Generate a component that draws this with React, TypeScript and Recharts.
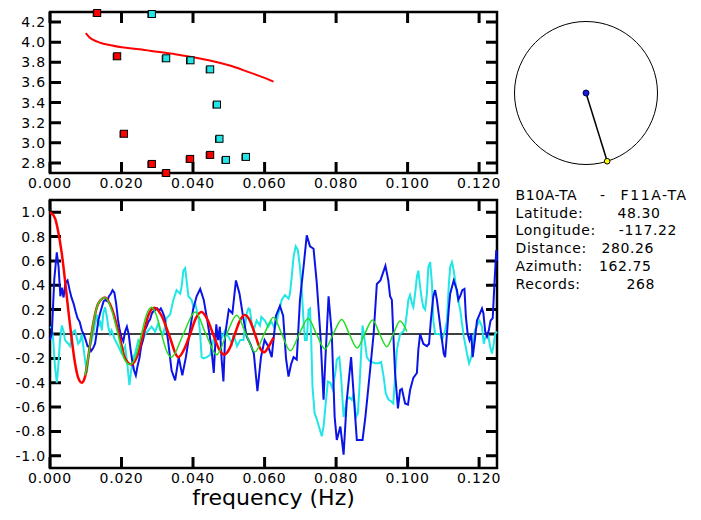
import {
  ComposedChart,
  Line,
  LineChart,
  ReferenceDot,
  ReferenceLine,
  Scatter,
  ScatterChart,
  XAxis,
  YAxis,
} from "recharts";

// ---- upper panel: phase velocity picks vs frequency ----
const freqTicks = [0, 0.02, 0.04, 0.06, 0.08, 0.1, 0.12];
const velTicks = [2.8, 3.0, 3.2, 3.4, 3.6, 3.8, 4.0, 4.2];

const redPickFreq = [0.0132, 0.0188, 0.0207, 0.0285, 0.0325, 0.0392, 0.0448];
const redPickVel = [4.29, 3.86, 3.09, 2.79, 2.7, 2.84, 2.88];

const cyanPickFreq = [0.0285, 0.0325, 0.0393, 0.0448, 0.0467, 0.0474, 0.0492, 0.0548];
const cyanPickVel = [4.28, 3.84, 3.82, 3.73, 3.38, 3.04, 2.83, 2.86];

const modelCurve: [number, number][] = [
  [0.01, 4.09], [0.011, 4.05], [0.012, 4.025], [0.014, 3.995], [0.017, 3.97],
  [0.02, 3.95], [0.025, 3.93], [0.03, 3.905], [0.035, 3.88], [0.04, 3.85],
  [0.045, 3.815], [0.05, 3.77], [0.055, 3.71], [0.06, 3.645], [0.0625, 3.607],
];

// ---- lower panel: correlation spectra ----
const corrTicks = [-1.0, -0.8, -0.6, -0.4, -0.2, 0.0, 0.2, 0.4, 0.6, 0.8, 1.0];

const blueSpec: [number, number][] = [
  [0, -0.05], [0.0005, 0], [0.0012, 0.45], [0.0019, 0.67], [0.0024, 0.55], [0.0029, 0.31],
  [0.0033, 0.38], [0.0038, 0.3], [0.0043, 0.42], [0.0049, 0.44], [0.0055, 0.36], [0.006, 0.3],
  [0.0066, 0.25], [0.0072, 0.18], [0.0077, 0.13], [0.0083, 0.1], [0.0089, 0.03], [0.0094, 0],
  [0.01, -0.05], [0.0105, -0.1], [0.011, -0.1], [0.0115, -0.14], [0.012, -0.12], [0.0126, -0.08],
  [0.013, 0], [0.0135, 0.11], [0.014, 0.17], [0.0145, 0.22], [0.015, 0.27], [0.0155, 0.28],
  [0.016, 0.27], [0.0165, 0.31], [0.017, 0.33], [0.0175, 0.36], [0.018, 0.34], [0.0185, 0.25],
  [0.019, 0.12], [0.0195, 0.03], [0.02, -0.03], [0.0205, -0.06], [0.021, 0.02], [0.0215, 0.06],
  [0.022, 0], [0.0225, -0.12], [0.023, -0.22], [0.0235, -0.3], [0.024, -0.34], [0.0245, -0.26],
  [0.025, -0.2], [0.0255, -0.1], [0.026, -0.05], [0.0265, 0.03], [0.027, 0.06], [0.0275, 0.1],
  [0.028, 0.12], [0.0285, 0.17], [0.029, 0.19], [0.0295, 0.2], [0.03, 0.21], [0.0305, 0.19],
  [0.031, 0.21], [0.0315, 0.18], [0.032, 0.14], [0.033, -0.05], [0.034, -0.3], [0.035, -0.38],
  [0.036, -0.19], [0.037, -0.34], [0.038, -0.19], [0.039, 0], [0.04, 0.2], [0.041, 0.31],
  [0.042, 0.37], [0.043, 0.28], [0.044, 0.11], [0.045, -0.08], [0.0458, -0.32], [0.0465, 0.08],
  [0.047, -0.05], [0.0475, 0.06], [0.048, -0.21], [0.0485, -0.39], [0.049, 0], [0.05, 0.2],
  [0.051, 0.17], [0.052, 0.44], [0.053, 0.33], [0.054, 0.14], [0.055, -0.02], [0.056, -0.08],
  [0.057, -0.16], [0.058, -0.47], [0.059, -0.19], [0.06, -0.05], [0.061, -0.1], [0.062, -0.19],
  [0.0632, 0.15], [0.0643, 0.23], [0.0652, 0.15], [0.066, -0.2], [0.0667, -0.35], [0.0674, -0.25],
  [0.0681, -0.19], [0.069, -0.21], [0.0699, 0.28], [0.0709, 0.55], [0.0718, 0.81], [0.0727, 0.72],
  [0.0737, 0.7], [0.0746, 0.42], [0.0756, 0], [0.0765, -0.54], [0.077, -0.21], [0.0779, 0.31],
  [0.0788, 0], [0.0796, -0.68], [0.0802, -0.87], [0.0812, -0.76], [0.0821, -0.99], [0.083, -0.54],
  [0.0842, -0.19], [0.0849, -0.49], [0.0858, -0.87], [0.0868, -0.87], [0.0874, -0.87], [0.0882, -0.68],
  [0.0896, -0.27], [0.0905, 0], [0.0914, 0.41], [0.0924, 0.44], [0.0938, 0.56], [0.0946, 0.44],
  [0.0951, 0.31], [0.0956, 0.28], [0.096, 0], [0.0965, -0.32], [0.0973, -0.61], [0.0979, -0.46],
  [0.0984, -0.45], [0.0993, -0.57], [0.1001, -0.58], [0.1007, -0.46], [0.1016, -0.36], [0.1026, -0.32],
  [0.103, -0.13], [0.1035, 0], [0.1044, -0.08], [0.1054, -0.1], [0.106, -0.08], [0.1065, 0.11],
  [0.1072, 0.31], [0.1077, 0.36], [0.1082, 0.28], [0.1088, 0.14], [0.1094, 0], [0.1101, -0.16],
  [0.1105, -0.19], [0.111, 0], [0.1115, 0.2], [0.1119, 0.33], [0.1129, 0.44], [0.1138, 0.36],
  [0.1142, 0.28], [0.1147, 0.31], [0.1153, 0.36], [0.1159, 0.37], [0.1163, 0.14], [0.1168, 0],
  [0.1173, -0.05], [0.1178, 0], [0.1182, -0.19], [0.1188, -0.05], [0.1194, 0.11], [0.1201, 0.16],
  [0.1208, 0.21], [0.1212, 0.17], [0.1217, 0.02], [0.1222, -0.02], [0.1227, 0.03], [0.1232, 0.11],
  [0.1238, 0.13], [0.1243, 0.42], [0.1248, 0.69], [0.125, 0.6],
];

const cyanSpec: [number, number][] = [
  [0, 0.05], [0.0005, 0.06], [0.0009, -0.05], [0.0014, -0.27], [0.0019, -0.4], [0.0023, -0.27],
  [0.0028, -0.05], [0.0033, 0.07], [0.0038, 0.02], [0.0042, -0.05], [0.0051, -0.08], [0.0056, -0.1],
  [0.0061, -0.02], [0.0065, 0.02], [0.007, 0.03], [0.0074, -0.02], [0.0079, -0.08], [0.0084, -0.06],
  [0.0089, 0], [0.0093, -0.1], [0.0098, -0.21], [0.0103, -0.32], [0.0107, -0.21], [0.0112, -0.1],
  [0.0121, 0], [0.0126, 0.09], [0.0131, 0.16], [0.0135, 0.06], [0.014, 0.11], [0.0145, 0.03],
  [0.0149, 0.17], [0.0154, 0.22], [0.0159, 0.14], [0.0163, 0.06], [0.0168, 0], [0.0172, 0.03],
  [0.0182, -0.05], [0.0191, -0.1], [0.02, -0.16], [0.021, -0.1], [0.0217, -0.27], [0.0222, -0.42],
  [0.0227, -0.3], [0.0233, -0.19], [0.0238, -0.16], [0.0247, -0.05], [0.0256, -0.08], [0.0266, 0],
  [0.0275, 0.03], [0.0284, 0.06], [0.0294, 0.02], [0.0303, 0.09], [0.0308, 0.03], [0.0317, 0],
  [0.0326, 0.13], [0.0336, 0.16], [0.0345, 0.28], [0.0354, 0.36], [0.0364, 0.33], [0.0368, 0.39],
  [0.0373, 0.52], [0.0378, 0.54], [0.0382, 0.44], [0.0387, 0.31], [0.0396, 0.28], [0.0401, 0.22],
  [0.0406, 0.25], [0.041, 0.2], [0.0415, 0.14], [0.042, 0], [0.0424, -0.19], [0.0429, -0.2],
  [0.0439, -0.19], [0.0448, -0.17], [0.0453, -0.1], [0.0457, -0.05], [0.0467, 0], [0.0472, -0.05],
  [0.0476, 0.02], [0.0481, -0.03], [0.049, 0.03], [0.0495, 0], [0.0504, -0.05], [0.0509, -0.08],
  [0.0513, 0], [0.0523, -0.1], [0.0532, -0.05], [0.0541, -0.05], [0.055, 0.17], [0.0555, 0.21],
  [0.0559, 0.2], [0.0564, 0.09], [0.0569, 0.03], [0.0578, 0.11], [0.0587, 0.07], [0.0591, 0.14],
  [0.0601, 0.11], [0.061, 0.06], [0.0619, 0.1], [0.0628, 0.05], [0.0634, 0.1], [0.0639, 0.17],
  [0.0648, 0.28], [0.0657, 0.32], [0.0667, 0.29], [0.0671, 0.33], [0.0676, 0.47], [0.0681, 0.63],
  [0.0687, 0.72], [0.0693, 0.69], [0.0699, 0.55], [0.0704, 0.36], [0.0709, 0.11], [0.0713, -0.05],
  [0.0718, -0.05], [0.0723, 0.2], [0.0727, 0.21], [0.073, 0], [0.0734, -0.43], [0.074, -0.65],
  [0.0746, -0.7], [0.0752, -0.76], [0.076, -0.84], [0.0765, -0.76], [0.077, -0.6], [0.0777, -0.39],
  [0.0784, -0.4], [0.079, -0.45], [0.0798, -0.32], [0.0802, -0.21], [0.0809, -0.19], [0.0814, -0.35],
  [0.0821, -0.68], [0.0825, -0.62], [0.083, -0.54], [0.0837, -0.52], [0.0844, -0.54], [0.0849, -0.49],
  [0.0856, -0.68], [0.0861, -0.65], [0.0866, -0.4], [0.0871, -0.1], [0.0874, 0.07], [0.088, -0.05],
  [0.0886, -0.19], [0.0893, -0.22], [0.09, -0.23], [0.0909, -0.24], [0.0919, -0.24], [0.0926, -0.23],
  [0.0933, -0.35], [0.0939, -0.49], [0.0947, -0.54], [0.0953, -0.55], [0.096, -0.57], [0.0965, -0.35],
  [0.097, -0.13], [0.0979, 0], [0.0988, 0.02], [0.0993, 0.06], [0.0998, 0.17], [0.1002, 0.28],
  [0.1007, 0.32], [0.1012, 0.25], [0.1016, 0.22], [0.1021, 0.33], [0.1026, 0.47], [0.103, 0.52],
  [0.1035, 0.39], [0.104, 0.28], [0.1044, 0.22], [0.1049, 0.2], [0.1054, 0.33], [0.1058, 0.55],
  [0.1063, 0.59], [0.1068, 0.42], [0.1072, 0.11], [0.1077, 0], [0.1091, 0], [0.1096, -0.05],
  [0.1105, 0.03], [0.111, 0.11], [0.1115, 0.39], [0.1119, 0.55], [0.1124, 0.59], [0.1129, 0.52],
  [0.1133, 0.44], [0.1138, 0.33], [0.1147, 0.2], [0.1157, -0.02], [0.1161, -0.08], [0.1166, -0.16],
  [0.1172, -0.24], [0.1178, -0.19], [0.1182, -0.11], [0.1188, 0.03], [0.1194, 0.07], [0.1201, 0.11],
  [0.1208, 0.06], [0.1213, -0.08], [0.1217, -0.03], [0.1225, 0], [0.1231, -0.11], [0.1236, -0.16],
  [0.1241, -0.08], [0.1245, 0], [0.125, 0.02],
];

const redSpec: [number, number][] = [
  [0, 1.0], [0.0014, 0.95], [0.0023, 0.84], [0.0033, 0.66], [0.0042, 0.44], [0.0051, 0.2],
  [0.0059, 0], [0.007, -0.24], [0.0079, -0.36], [0.0089, -0.4], [0.0098, -0.35], [0.0107, -0.19],
  [0.0116, 0], [0.0135, 0.25], [0.0154, 0.3], [0.0174, 0.2], [0.0193, 0], [0.021, -0.2],
  [0.0227, -0.25], [0.0244, -0.18], [0.0261, 0], [0.0276, 0.16], [0.0292, 0.215], [0.0312, 0.15],
  [0.0332, 0], [0.0359, -0.19], [0.0376, -0.12], [0.0392, 0], [0.0408, 0.13], [0.0424, 0.18],
  [0.044, 0.12], [0.0456, 0], [0.0472, -0.12], [0.0487, -0.17], [0.0502, -0.12], [0.0517, 0],
  [0.0531, 0.11], [0.0545, 0.156], [0.0559, 0.11], [0.0573, 0], [0.0586, -0.11], [0.0599, -0.15],
  [0.0612, -0.1], [0.0625, -0.03],
];

const greenSpec: [number, number][] = [
  [0.0098, -0.34], [0.0107, -0.19], [0.0116, 0], [0.0135, 0.25], [0.0154, 0.3], [0.0172, 0.2],
  [0.019, 0], [0.0207, -0.2], [0.0224, -0.25], [0.024, -0.18], [0.0256, 0], [0.027, 0.16],
  [0.0284, 0.22], [0.0298, 0.15], [0.0312, 0], [0.0326, -0.14], [0.034, -0.19], [0.0373, 0],
  [0.0406, 0.18], [0.0436, 0], [0.0466, -0.17], [0.0494, 0], [0.0522, 0.153], [0.0548, 0],
  [0.0573, -0.148], [0.0599, 0], [0.0625, 0.137], [0.0648, 0], [0.0672, -0.137], [0.0697, 0],
  [0.0722, 0.128], [0.0745, 0], [0.0769, -0.123], [0.0792, 0], [0.0816, 0.12], [0.0837, 0],
  [0.0859, -0.115], [0.088, 0], [0.0902, 0.115], [0.0922, 0], [0.0942, -0.104], [0.096, 0],
  [0.0979, 0.107], [0.0998, 0.02],
];

// ---- station info ----
const stationPair = ["B10A-TA", "F11A-TA"];
const infoLabels = ["Latitude:", "Longitude:", "Distance:", "Azimuth:", "Records:"];
const infoValues = ["48.30", "-117.22", "280.26", "162.75", "268"];
const azimuth = 162.75;

const toXY = (pts: [number, number][]) => pts.map(([x, y]) => ({ x, y }));

const FONT = "DejaVu Sans, sans-serif";
const freqDomain = [0, 0.125];
const velDomain = [2.7, 4.3];
const corrDomain = [-1.1, 1.1];
const textProps = { fill: "#000", fontSize: 14, fontFamily: FONT, letterSpacing: 0.8 };

// plot boxes that follow from the chart margins and axis sizes below
const PLOT_L = 50;
const PLOT_R = 497;
const topBox = { top: 12, bottom: 173, domain: velDomain, ticks: velTicks };
const lowBox = { top: 200, bottom: 468, domain: corrDomain, ticks: corrTicks };
const TICK_PX = 11;

const bottomLabel = (p: any) => (
  <text x={p.x} y={p.y + 14.5} textAnchor="middle" {...textProps}>
    {Number(p.payload.value).toFixed(3)}
  </text>
);
const leftLabel = (p: any) => (
  <text x={p.x - 4} y={p.y + 5} textAnchor="end" {...textProps}>
    {Number(p.payload.value).toFixed(1)}
  </text>
);

const Square = (color: string) => (props: any) => {
  const { cx, cy } = props;
  return (
    <g>
      <line x1={cx - 4} y1={cy - 3} x2={cx - 4} y2={cy + 4} stroke="#000" strokeWidth={1} />
      <rect x={cx - 3.5} y={cy - 3.5} width={7} height={7} fill={color} stroke="#000" strokeWidth={1} />
    </g>
  );
};

function axes(xHeight: number, yDomain: number[], yTicks: number[], label?: any) {
  return [
    <XAxis key="b" type="number" dataKey="x" domain={freqDomain} ticks={freqTicks}
      height={xHeight} tickSize={0} tickMargin={0} axisLine={false} tickLine={false}
      tick={bottomLabel} interval={0} label={label} />,
    <YAxis key="l" type="number" dataKey="y" domain={yDomain} ticks={yTicks}
      width={50} tickSize={0} tickMargin={0} axisLine={false} tickLine={false}
      tick={leftLabel} interval={0} />,
  ];
}

// frame with inward ticks on all four sides, as one path per panel
function framePath(box: typeof topBox) {
  const [y0, y1] = box.domain;
  const px = (f: number) =>
    PLOT_L + ((f - freqDomain[0]) / (freqDomain[1] - freqDomain[0])) * (PLOT_R - PLOT_L);
  const py = (v: number) => box.top + ((y1 - v) / (y1 - y0)) * (box.bottom - box.top);
  const parts: string[] = [];
  freqTicks.forEach((t) => {
    const x = px(t).toFixed(1);
    parts.push(`M${x},${box.bottom}V${box.bottom - TICK_PX}`);
    parts.push(`M${x},${box.top}V${box.top + TICK_PX}`);
  });
  box.ticks.forEach((t) => {
    const y = py(t).toFixed(1);
    parts.push(`M${PLOT_L},${y}H${PLOT_L + TICK_PX}`);
    parts.push(`M${PLOT_R},${y}H${PLOT_R - TICK_PX}`);
  });
  const ticks = parts.join("");
  const rect = `M${PLOT_L},${box.top}H${PLOT_R}V${box.bottom}H${PLOT_L}Z`;
  return { ticks, rect };
}

export default function App() {
  const redPicks = redPickFreq.map((x, i) => ({ x, y: redPickVel[i] }));
  const cyanPicks = cyanPickFreq.map((x, i) => ({ x, y: cyanPickVel[i] }));
  const az = (azimuth * Math.PI) / 180;
  const endPt = { x: Math.sin(az), y: Math.cos(az) };
  const fTop = framePath(topBox);
  const fLow = framePath(lowBox);

  return (
    <div style={{ position: "absolute", left: 0, top: 0, width: 701, height: 520, background: "#fff", overflow: "hidden" }}>
      <svg style={{ position: "absolute", left: 0, top: 0 }} width={701} height={520}>
        <path d={fTop.ticks + fLow.ticks} stroke="#000" strokeWidth={3} fill="none" />
        <path d={fTop.rect + fLow.rect} stroke="#000" strokeWidth={2.5} fill="none" />
      </svg>

      <div style={{ position: "absolute", left: 0, top: 0 }}>
        <ComposedChart width={500} height={198} margin={{ top: 12, right: 3, bottom: 0, left: 0 }}>
          {axes(25, velDomain, velTicks)}
          <Line data={toXY(modelCurve)} dataKey="y" type="monotone"
            stroke="#ff0000" strokeWidth={2} dot={false} isAnimationActive={false} />
          <Scatter data={redPicks} dataKey="y" fill="#ff0000"
            shape={Square("#ff0000")} isAnimationActive={false} />
          <Scatter data={cyanPicks} dataKey="y" fill="#22e6e6"
            shape={Square("#22e6e6")} isAnimationActive={false} />
        </ComposedChart>
      </div>

      <div style={{ position: "absolute", left: 0, top: 188 }}>
        <LineChart width={500} height={330} margin={{ top: 12, right: 3, bottom: 0, left: 0 }}>
          {axes(50, corrDomain, corrTicks, {
            value: "frequency (Hz)",
            position: "insideBottom",
            offset: 13,
            style: { fill: "#000", fontSize: 22, fontFamily: FONT },
          })}
          <ReferenceLine y={0} stroke="#000" strokeWidth={1.5} />
          <Line data={toXY(cyanSpec)} dataKey="y" type="linear"
            stroke="#22e6e6" strokeWidth={2} dot={false} isAnimationActive={false} />
          <Line data={toXY(blueSpec)} dataKey="y" type="linear"
            stroke="#0a14e6" strokeWidth={2} dot={false} isAnimationActive={false} />
          <Line data={toXY(redSpec)} dataKey="y" type="monotone"
            stroke="#ff0000" strokeWidth={2.5} dot={false} isAnimationActive={false} />
          <Line data={toXY(greenSpec)} dataKey="y" type="monotone"
            stroke="#22dd22" strokeWidth={1.5} dot={false} isAnimationActive={false} />
        </LineChart>
      </div>

      <div style={{ position: "absolute", left: 505, top: 13 }}>
        <ScatterChart width={161} height={160} margin={{ top: 5, right: 5, bottom: 5, left: 6 }}>
          <XAxis type="number" dataKey="x" domain={[-1.05, 1.05]} hide />
          <YAxis type="number" dataKey="y" domain={[-1.05, 1.05]} hide />
          <ReferenceDot x={0} y={0} r={71.5} fill="none" stroke="#000" strokeWidth={1} />
          <ReferenceLine segment={[{ x: 0, y: 0 }, endPt]} stroke="#000" strokeWidth={1.5} />
          <Scatter data={[{ x: 0, y: 0 }]} isAnimationActive={false}
            shape={(p: any) => <circle cx={p.cx} cy={p.cy} r={3} fill="#1a1ad0" stroke="#000060" strokeWidth={1} />} />
          <Scatter data={[endPt]} isAnimationActive={false}
            shape={(p: any) => <circle cx={p.cx} cy={p.cy} r={2.8} fill="#ffff00" stroke="#000" strokeWidth={1} />} />
        </ScatterChart>
      </div>

      <svg style={{ position: "absolute", left: 0, top: 0, pointerEvents: "none" }} width={701} height={520}>
        <g fontFamily={FONT} fontSize={14} fill="#000" letterSpacing={0.6}>
          <text x={515.5} y={200}>{stationPair[0]}</text>
          <text x={600} y={200}>-</text>
          <text x={620.5} y={200} letterSpacing={1.6}>{stationPair[1]}</text>
          {infoLabels.map((l, i) => (
            <text key={l} x={515.5} y={217.5 + i * 17.9}>{l}</text>
          ))}
          {infoValues.map((v, i) => (
            <text key={v} x={[660.5, 677, 654, 651.5, 655][i]} y={217.5 + i * 17.9} textAnchor="end">
              {v}
            </text>
          ))}
        </g>
      </svg>
    </div>
  );
}
